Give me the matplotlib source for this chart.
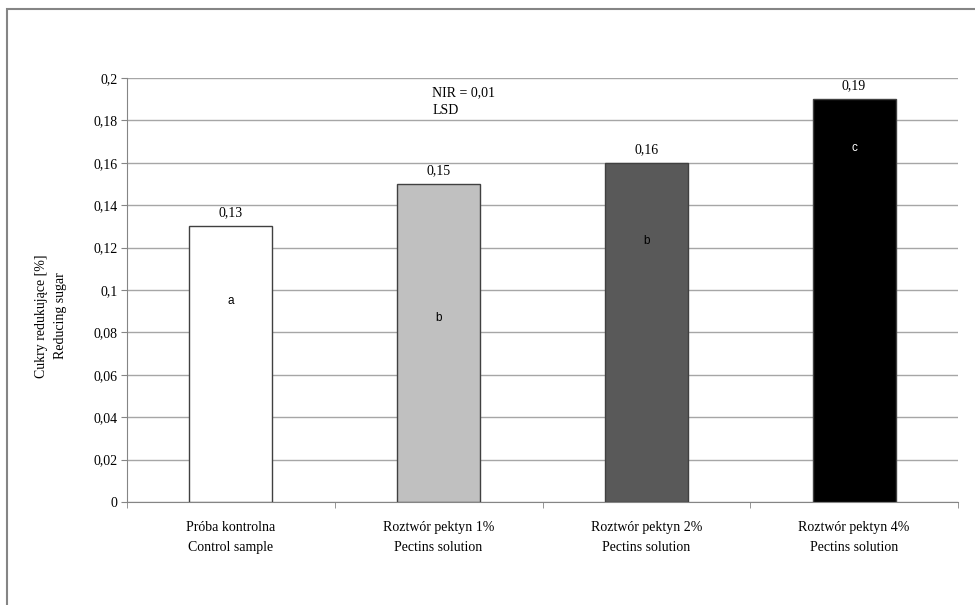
import matplotlib.pyplot as plt
from matplotlib.patches import Rectangle
from matplotlib.ticker import FixedLocator, FuncFormatter

categories = ['Próba kontrolna\nControl sample',
              'Roztwór pektyn 1%\nPectins solution',
              'Roztwór pektyn 2%\nPectins solution',
              'Roztwór pektyn 4%\nPectins solution']
values = [0.13, 0.15, 0.16, 0.19]
value_labels = ['0,13', '0,15', '0,16', '0,19']
groups = ['a', 'b', 'b', 'c']
group_y = [0.095, 0.087, 0.123, 0.167]
colors = ['#ffffff', '#c0c0c0', '#595959', '#000000']
letter_colors = ['#000000', '#000000', '#000000', '#ffffff']


def fmt(v, pos=None):
  s = f"{v:.2f}".rstrip('0').rstrip('.')
  return s.replace('.', ',')


plt.rcParams['font.family'] = ['Liberation Serif', 'DejaVu Serif']

fig = plt.figure(figsize=(9.75, 6.05), dpi=100)
ax = fig.add_axes([127/975, 1-502/605, (958-127)/975, (502-78)/605])

# outer chart frame (only top and left edges fall inside the image)
fig.add_artist(Rectangle((7/975, -0.1), 1.2, 1.1 - 9/605, transform=fig.transFigure,
                         fill=False, edgecolor='#858585', linewidth=1.5))

x = list(range(len(values)))
ax.bar(x, values, width=0.4, color=colors, edgecolor='#404040', linewidth=1.0, zorder=3)

for i in x:
  ax.annotate(value_labels[i], (i, values[i]), xytext=(0, 5), textcoords='offset points',
              ha='center', va='bottom', fontsize=10)
  ax.text(i, group_y[i], groups[i], ha='center', va='center', fontsize=8.5,
          family='Liberation Sans', color=letter_colors[i], zorder=4)

ax.text(0.97, 0.1887, 'NIR = 0,01\nLSD', ha='left', va='center', fontsize=10, linespacing=1.5)

ax.set_xlim(-0.5, len(values) - 0.5)
ax.set_ylim(0, 0.2)
ax.yaxis.set_major_locator(FixedLocator([i * 0.02 for i in range(11)]))
ax.yaxis.set_major_formatter(FuncFormatter(fmt))
ax.set_xticks(x)
ax.set_xticklabels(categories, fontsize=10, linespacing=1.65)
ax.xaxis.set_minor_locator(FixedLocator([i - 0.5 for i in range(len(values) + 1)]))
ax.tick_params(axis='x', which='major', length=0, pad=14)
ax.tick_params(axis='x', which='minor', length=4, color='#858585')
ax.tick_params(axis='y', length=4, color='#858585', labelsize=10, pad=3)

ax.grid(axis='y', color='#a6a6a6', linewidth=1.0, zorder=0)
ax.set_axisbelow(True)
for s in ['top', 'right']:
  ax.spines[s].set_visible(False)
for s in ['left', 'bottom']:
  ax.spines[s].set_color('#858585')

ax.set_ylabel('Cukry redukujące [%]\nReducing sugar', fontsize=10, linespacing=1.65, va='center')
ax.yaxis.set_label_coords((51 - 127) / 831, (502 - 316) / 424)

fig.savefig('out.png', dpi=100)
